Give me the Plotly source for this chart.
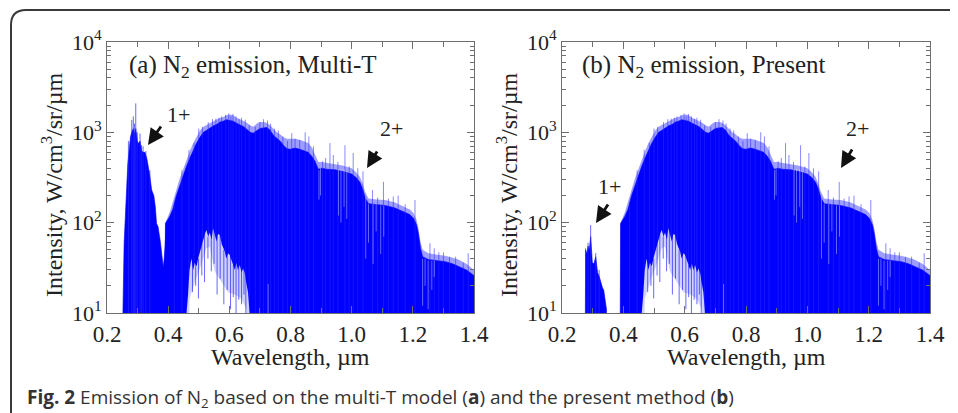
import plotly.graph_objects as go

# ---------------- data ----------------
# Panel (a): N2 1+ system, Multi-T model (upper envelope)
wl_1p_a = [0.252, 0.256, 0.260, 0.264, 0.268, 0.273, 0.277, 0.281, 0.286, 0.290, 0.294, 0.299,
           0.304, 0.308, 0.313, 0.318, 0.324, 0.330, 0.335, 0.340, 0.346, 0.353, 0.358, 0.362,
           0.367, 0.371, 0.375, 0.379, 0.384, 0.387, 0.390, 0.395]
top_1p_a = [10, 60, 150, 229, 450, 700, 900, 1000, 1100, 950, 1100, 800,
            750, 800, 630, 600, 600, 520, 430, 330, 230, 200, 150, 98,
            90, 75, 60, 45, 32, 40, 60, 98]

# Panel (b): N2 1+ system, present method (upper envelope)
wl_1p_b = [0.275, 0.277, 0.281, 0.285, 0.289, 0.2935, 0.299, 0.304, 0.310, 0.313, 0.316, 0.322,
           0.327, 0.332, 0.336, 0.340, 0.345]
top_1p_b = [10, 50, 45, 55, 50, 70, 36, 35, 42, 35, 28, 25,
            21, 19, 18, 14, 11]

# Main bands (identical in both panels): dense envelope and fuzzy line-top envelope
wl_band = [0.389, 0.391, 0.405, 0.415, 0.427, 0.438, 0.449, 0.460, 0.471, 0.482, 0.493, 0.504,
           0.515, 0.525, 0.536, 0.548, 0.560, 0.570, 0.580, 0.591, 0.602, 0.613, 0.624, 0.635,
           0.646, 0.657, 0.668, 0.678, 0.690, 0.700, 0.711, 0.722, 0.733, 0.744, 0.755, 0.766,
           0.777, 0.788, 0.800, 0.815, 0.830, 0.845, 0.858, 0.870, 0.880, 0.891, 0.902, 0.920,
           0.946, 0.970, 1.000, 1.015, 1.027, 1.036, 1.044, 1.055, 1.080, 1.109, 1.140, 1.163,
           1.190, 1.202, 1.212, 1.218, 1.225, 1.232, 1.251, 1.280, 1.306, 1.330, 1.349, 1.375,
           1.400]
top_band = [10, 98, 117, 140, 200, 260, 330, 420, 520, 640, 760, 880,
            1000, 1050, 1120, 1180, 1230, 1300, 1330, 1380, 1350, 1330, 1260, 1200,
            1160, 1080, 1000, 980, 1040, 1100, 1120, 1130, 1060, 930, 860, 800,
            720, 660, 650, 670, 650, 620, 600, 540, 480, 390, 400, 390,
            385, 370, 345, 315, 280, 235, 190, 162, 158, 155, 146, 136,
            123, 112, 95, 76, 52, 42, 39, 38, 37, 35, 33, 30,
            26]
fuzz_band = [10, 100, 130, 170, 240, 310, 390, 500, 620, 760, 900, 1050,
             1150, 1200, 1280, 1350, 1400, 1450, 1480, 1550, 1580, 1550, 1450, 1400,
             1350, 1280, 1200, 1150, 1250, 1300, 1300, 1280, 1200, 1100, 1000, 950,
             880, 850, 850, 850, 830, 800, 760, 680, 580, 470, 470, 460,
             450, 430, 400, 360, 320, 270, 220, 185, 180, 178, 168, 155,
             140, 128, 108, 88, 62, 50, 46, 44, 43, 41, 39, 35,
             30]

# White "hole" under the visible bands: outer edge and dense white core
wl_hole = [0.454, 0.460, 0.465, 0.470, 0.476, 0.482, 0.487, 0.493, 0.498, 0.505, 0.514, 0.520,
           0.525, 0.531, 0.536, 0.542, 0.547, 0.553, 0.558, 0.563, 0.569, 0.575, 0.580, 0.585,
           0.590, 0.596, 0.601, 0.607, 0.612, 0.618, 0.623, 0.628, 0.634, 0.640, 0.645, 0.650,
           0.655, 0.661, 0.666, 0.672]
hole_top = [1, 10, 16, 30, 40, 30, 36, 33, 40, 50, 64, 75,
            83, 70, 78, 65, 87, 70, 62, 75, 73, 58, 52, 48,
            40, 46, 44, 38, 34, 30, 36, 30, 34, 28, 31, 28,
            22, 17, 10, 1]
wl_core = [0.4626, 0.470, 0.487, 0.508, 0.525, 0.536, 0.552, 0.574, 0.596, 0.618, 0.639, 0.656, 0.661]
core_top = [1, 14.5, 22, 34, 52, 54, 29, 22, 17, 16, 14.5, 11, 1]

# Sharp lines rising above the envelope (wavelength, peak intensity)
spk_a_wl = [0.270, 0.281, 0.286, 0.290, 0.294, 0.299, 0.308, 0.313, 0.318, 0.327, 0.340]
spk_a_top = [800, 1370, 1500, 1250, 2090, 1000, 970, 720, 700, 620, 380]
spk_b_wl = [0.277, 0.285, 0.2935, 0.310, 0.321]
spk_b_top = [52, 60, 94, 46, 30]
spk_wl = [0.420, 0.445, 0.468, 0.485, 0.500, 0.512, 0.531, 0.545, 0.556, 0.566, 0.575, 0.588,
          0.598, 0.605, 0.612, 0.622, 0.632, 0.640, 0.652, 0.665, 0.685, 0.700, 0.712, 0.725,
          0.735, 0.748, 0.760, 0.775, 0.790, 0.804, 0.815, 0.830, 0.848, 0.860, 0.875, 0.905,
          0.915, 0.929, 0.940, 0.955, 0.978, 0.992, 1.005, 1.020, 1.037, 1.068, 1.085, 1.104,
          1.120, 1.136, 1.152, 1.175, 1.207, 1.256, 1.270, 1.285, 1.300, 1.320, 1.340, 1.365,
          1.381]
spk_top = [160, 380, 640, 760, 1100, 1150, 1300, 1400, 1420, 1450, 1500, 1560,
           1620, 1500, 1600, 1500, 1400, 1450, 1380, 1200, 1150, 1300, 1400, 1350,
           1250, 1100, 1050, 900, 800, 980, 850, 820, 1000, 900, 700, 480,
           520, 760, 560, 470, 720, 420, 590, 400, 370, 230, 190, 283,
           185, 195, 200, 160, 178, 59, 52, 47, 47, 42, 42, 36,
           46]

# Lighter streaks inside the filled bands (wavelength, low, high)
stk_wl = [0.727, 0.893, 0.898, 0.957, 0.965, 0.975, 0.984, 1.046, 1.055, 1.070, 1.080,
          1.095, 1.105, 1.232, 1.240, 1.250, 1.262, 1.270]
stk_lo = [1, 180, 200, 120, 100, 150, 110, 40, 60, 35, 80, 45, 70, 12, 20, 11, 18, 25]
stk_hi = [21, 380, 400, 390, 390, 390, 360, 190, 160, 160, 160, 155, 155, 40, 40, 38, 38, 38]

# Blue lines hanging into the white hole (wavelength, low, high)
hst_wl = [0.4795, 0.490, 0.499, 0.510, 0.519, 0.530, 0.541, 0.550, 0.560, 0.570, 0.582,
          0.593, 0.604, 0.613, 0.622, 0.631, 0.640, 0.648, 0.654]
hst_lo = [17, 20, 14.5, 26, 22, 40, 29, 35, 16, 24, 12.5, 18, 11, 15, 10, 14, 12.5, 16, 10]
hst_hi = [40, 36, 40, 60, 75, 70, 80, 87, 70, 73, 50, 46, 44, 34, 36, 34, 30, 31, 25]

x_ticks = [0.2, 0.4, 0.6, 0.8, 1.0, 1.2, 1.4]
x_ticktext = ["0.2", "0.4", "0.6", "0.8", "1.0", "1.2", "1.4"]
y_ticks = [10, 100, 1000, 10000]
y_ticktext = ["10<sup>1</sup>", "10<sup>2</sup>", "10<sup>3</sup>", "10<sup>4</sup>"]

# ---------------- figure ----------------
# the page body has an 8 px margin, so the figure is 8 px smaller each way
OFF = 8
W, H = 958 - OFF, 413 - OFF
BASE = 1.0
BLUE = "#0000ff"
SERIF = "Liberation Serif, Times New Roman, serif"


def px(x):
    return (x - OFF) / W


def py(y):
    return 1 - (y - OFF) / H


fig = go.Figure()


def poly(wl, top, xa, ya, color, lw=0.6, lcolor=None):
    xs = [wl[0]] + list(wl) + [wl[-1]]
    ys = [BASE] + list(top) + [BASE]
    fig.add_trace(go.Scatter(x=xs, y=ys, mode="lines", fill="toself", fillcolor=color,
                             line=dict(color=lcolor or color, width=lw), xaxis=xa, yaxis=ya,
                             hoverinfo="skip"))


def segs(wl, lo, hi, xa, ya, color, width=1.0):
    xs, ys = [], []
    for w, a, b in zip(wl, lo, hi):
        xs += [w, w, None]
        ys += [a, b, None]
    fig.add_trace(go.Scatter(x=xs, y=ys, mode="lines", line=dict(color=color, width=width),
                             xaxis=xa, yaxis=ya, hoverinfo="skip"))


for xa, ya, wl1, top1, swl1, stop1 in [("x", "y", wl_1p_a, top_1p_a, spk_a_wl, spk_a_top),
                                       ("x2", "y2", wl_1p_b, top_1p_b, spk_b_wl, spk_b_top)]:
    poly(wl_band, fuzz_band, xa, ya, "rgba(40,40,255,0.45)", lw=0)
    poly(wl1, top1, xa, ya, BLUE)
    poly(wl_band, top_band, xa, ya, BLUE)
    segs(swl1, [BASE] * len(swl1), stop1, xa, ya, "rgba(40,40,255,0.7)")
    segs(spk_wl, [BASE] * len(spk_wl), spk_top, xa, ya, "rgba(40,40,255,0.55)")
    poly(wl_hole, hole_top, xa, ya, "#d0d0ff", lw=0)
    poly(wl_core, core_top, xa, ya, "#ffffff", lw=0)
    segs(hst_wl, hst_lo, hst_hi, xa, ya, "rgba(0,0,255,0.6)")
    segs(stk_wl, stk_lo, stk_hi, xa, ya, "rgba(255,255,255,0.4)")

xdom_a = [px(107), px(474)]
xdom_b = [px(562), px(930)]
ydom = [py(313), py(42)]

ax_common = dict(showline=True, linecolor="#6e6e6e", linewidth=1, mirror="ticks",
                 ticks="inside", ticklen=7, tickcolor="#6e6e6e", showgrid=False,
                 zeroline=False, automargin=False)
xcommon = dict(ax_common, range=[0.2, 1.4], tickmode="array", tickvals=x_ticks,
               ticktext=x_ticktext, tickfont=dict(family=SERIF, size=23, color="#222"),
               minor=dict(tickvals=[0.3, 0.5, 0.7, 0.9, 1.1, 1.3], ticks="inside",
                          ticklen=5, tickcolor="#6e6e6e"))
minor_y = [m * 10 ** k for k in range(1, 4) for m in range(2, 10)]
ycommon = dict(ax_common, type="log", range=[1, 4], tickmode="array", tickvals=y_ticks,
               ticktext=y_ticktext, tickfont=dict(family=SERIF, size=22, color="#222"),
               minor=dict(tickvals=minor_y, ticks="inside", ticklen=4, tickcolor="#6e6e6e"))

fig.update_layout(
    width=W, height=H, margin=dict(l=0, r=0, t=0, b=0, pad=0, autoexpand=False),
    paper_bgcolor="white", plot_bgcolor="white", showlegend=False,
    xaxis=dict(xcommon, domain=xdom_a, anchor="y"),
    yaxis=dict(ycommon, domain=ydom, anchor="x"),
    xaxis2=dict(xcommon, domain=xdom_b, anchor="y2"),
    yaxis2=dict(ycommon, domain=ydom, anchor="x2"),
)

ann = []


def text(x, y, t, size=22, xanchor="center", yanchor="middle", angle=0, family=SERIF,
         color="#222"):
    ann.append(dict(x=px(x), y=py(y), xref="paper", yref="paper", text=t, showarrow=False,
                    xanchor=xanchor, yanchor=yanchor, textangle=angle,
                    font=dict(family=family, size=size, color=color)))


def arrow(x_tip, y_tip, x_tail, y_tail):
    ann.append(dict(x=px(x_tip), y=py(y_tip), xref="paper", yref="paper", text="",
                    showarrow=True, ax=x_tail - x_tip, ay=y_tail - y_tip, axref="pixel",
                    ayref="pixel", arrowhead=2, arrowsize=1.15, arrowwidth=2.8,
                    arrowcolor="#111", standoff=0, startstandoff=0))


text(127, 66, "(a) N<sub>2</sub> emission, Multi-T", size=25, xanchor="left")
text(580, 66, "(b) N<sub>2</sub> emission, Present", size=25, xanchor="left")
text(290, 357, "Wavelength, \u00b5m", size=24)
text(746, 357, "Wavelength, \u00b5m", size=24)
text(52, 185, "Intensity, W/cm<sup>3</sup>/sr/\u00b5m", size=24, angle=-90)
text(507, 185, "Intensity, W/cm<sup>3</sup>/sr/\u00b5m", size=24, angle=-90)
text(178, 114, "1+", size=22)
text(391, 128, "2+", size=22)
text(609, 186, "1+", size=22)
text(857, 129, "2+", size=22)
arrow(148, 145, 162, 125)
arrow(367, 168, 378, 150)
arrow(596, 223, 609, 203)
arrow(841, 168, 853, 148)
text(25, 398, "<b>Fig. 2</b> Emission of N<sub>2</sub> based on the multi-T model (<b>a</b>) "
     "and the present method (<b>b</b>)", size=19, xanchor="left",
     family="Open Sans, sans-serif", color="#333")
fig.update_layout(annotations=ann)

# rounded frame around the figure
r = 15
path = (f"M {px(11)} {py(420)} L {px(11)} {py(10 + r)} "
        f"Q {px(11)} {py(10)} {px(11 + r)} {py(10)} L {px(970)} {py(10)}")
fig.add_shape(type="path", path=path, xref="paper", yref="paper",
              line=dict(color="#3a3a3a", width=2))

fig.write_html("out.html")
